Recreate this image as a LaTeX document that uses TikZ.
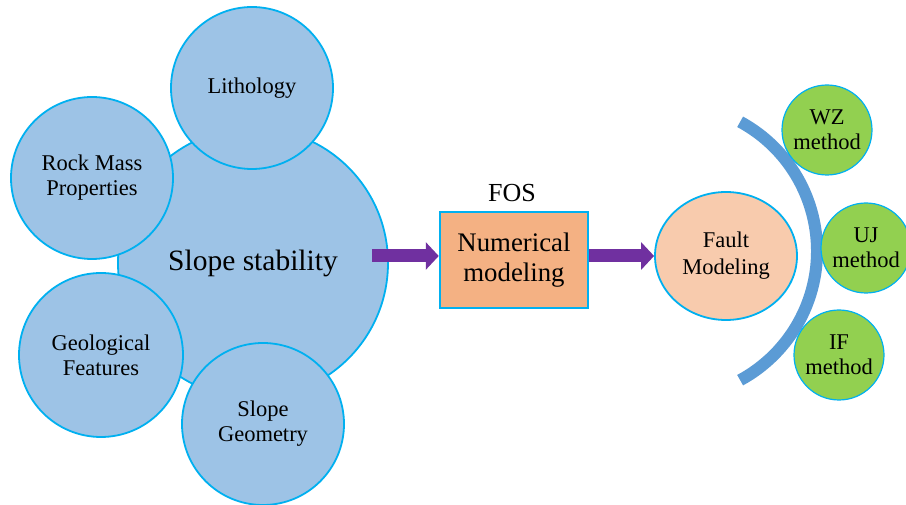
\documentclass[tikz,border=0pt]{standalone}
\usepackage{fontspec}
\setmainfont{Liberation Serif}[Ligatures=TeX]
\usepackage{tikz}
\usetikzlibrary{arrows.meta,positioning,calc,shapes.geometric}
\usepackage{xcolor}
\definecolor{sblue}{HTML}{9DC3E6}
\definecolor{scyan}{HTML}{00B0F0}
\definecolor{sorange}{HTML}{F4B183}
\definecolor{speach}{HTML}{F8CBAD}
\definecolor{sgreen}{HTML}{92D050}
\definecolor{spurple}{HTML}{7030A0}
\definecolor{sarc}{HTML}{5B9BD5}

\begin{document}
\begin{tikzpicture}[x=1pt, y=1pt,
  factor/.style={circle, draw=scyan, line width=1.8pt, fill=sblue, inner sep=0pt,
    minimum size=162pt, align=center, font=\rmfamily\fontsize{22.5}{25}\selectfont},
  method/.style={circle, draw=scyan, line width=1.2pt, fill=sgreen, inner sep=0pt,
    minimum size=90pt, align=center, font=\rmfamily\fontsize{22.5}{25}\selectfont},
  flow/.style={draw=spurple, line width=13pt, -{Triangle[width=27pt,length=13pt]}}]
\useasboundingbox (0,0) rectangle (906,505);
% ================= slope stability and its factors =================
\node[factor, minimum size=270pt, font=\rmfamily\fontsize{29.5}{34}\selectfont] (slope) at (253,242) {Slope stability};
\node[factor] (litho) at (252,417) {Lithology};
\node[factor] (rock) at (92,327) {Rock Mass\\Properties};
\node[factor, minimum size=164pt] (geo) at (101,150) {Geological\\Features};
\node[factor] (geom) at (263,81) {Slope\\Geometry};
% ================= numerical modeling =================
\node[draw=scyan, line width=2.5pt, fill=sorange, minimum width=148pt, minimum height=96pt,
  inner sep=0pt, align=center, font=\rmfamily\fontsize{26.8}{30}\selectfont] (num) at (514,245) {Numerical\\modeling};
\node[font=\rmfamily\fontsize{26}{30}\selectfont] (fos) at (512,312) {FOS};
% ================= fault modeling =================
\node[ellipse, draw=scyan, line width=1.8pt, fill=speach, minimum width=142pt, minimum height=128pt,
  inner sep=0pt, align=center, font=\rmfamily\fontsize{22.5}{27}\selectfont] (fault) at (726,249) {Fault\\Modeling};
\coordinate (arcc) at (670,254);
\draw[sarc, line width=12pt] (arcc) ++(61.5:147) arc[start angle=61.5, end angle=-61.5, radius=147];
\node[method] (wz) at (827,375) {WZ\\method};
\node[method] (uj) at (866,257) {UJ\\method};
\node[method] (if) at (839,150) {IF\\method};
% ================= arrows =================
\coordinate (a1) at (372,249);
\draw[flow] (a1) -- ([yshift=4pt]num.west);
\draw[flow] ([yshift=4pt]num.east) -- (fault.west);
\end{tikzpicture}
\end{document}
